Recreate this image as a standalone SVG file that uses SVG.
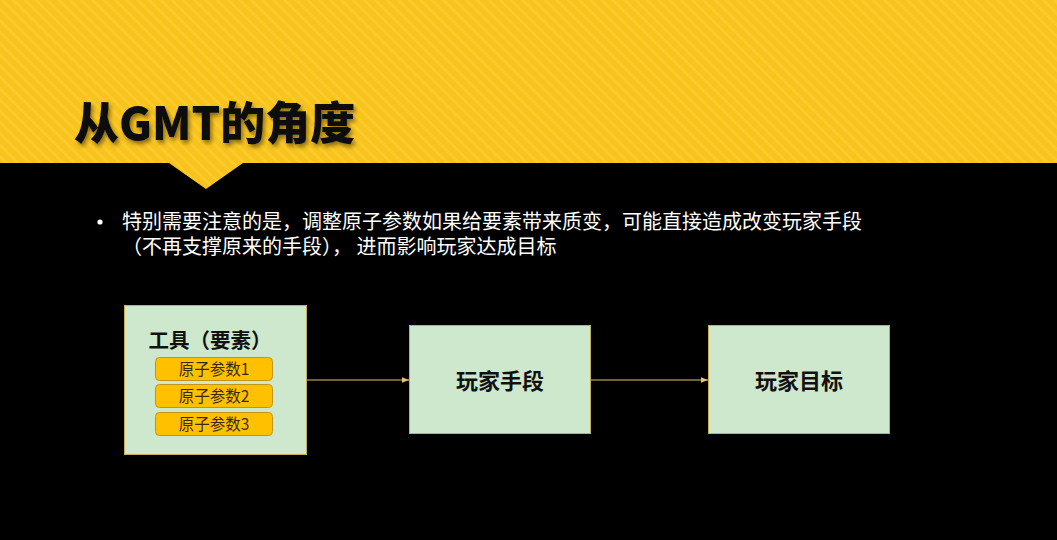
<svg xmlns="http://www.w3.org/2000/svg" width="1057" height="540" viewBox="0 0 1057 540">
<defs>
<pattern id="stripes" width="8" height="8" patternUnits="userSpaceOnUse" patternTransform="rotate(-45)">
<rect width="8" height="8" fill="#f8c31c"/>
<rect width="3" height="8" fill="#fbcb2c"/>
</pattern>
<filter id="shadow" x="-10%" y="-20%" width="130%" height="150%">
<feGaussianBlur in="SourceAlpha" stdDeviation="2"/>
<feOffset dx="2" dy="3" result="b"/>
<feFlood flood-color="#000" flood-opacity="0.45"/>
<feComposite in2="b" operator="in"/>
<feMerge><feMergeNode/><feMergeNode in="SourceGraphic"/></feMerge>
</filter>
<marker id="arr" viewBox="0 0 10 10" refX="10" refY="5" markerWidth="7" markerHeight="7" orient="auto" markerUnits="userSpaceOnUse">
<path d="M0,1 L10,5 L0,9 z" fill="#e6c06a"/>
</marker>
</defs>
<style>
.cjk{font-family:"Noto Sans CJK SC","Liberation Sans",sans-serif}
.box{fill:#cde8cd;stroke:#c9ad55;stroke-width:1}
.chip{fill:#ffc000;stroke:#c49417;stroke-width:1}
.chiptxt{font-size:15.5px;fill:#3a2a00;text-anchor:middle}
.lbl{font-size:22px;font-weight:bold;fill:#111;text-anchor:middle}
.body{font-size:20px;fill:#fff}
.conn{stroke:#e6c06a;stroke-width:1.2;fill:none}
</style>
<rect width="1057" height="540" fill="#000"/>
<polygon points="0,0 1057,0 1057,163 243,163 206,189 169,163 0,163" fill="url(#stripes)"/>
<text x="74" y="140" class="cjk" font-size="45" font-weight="900" fill="#111" filter="url(#shadow)">从GMT的角度</text>
<g id="bullet">
<circle cx="100" cy="222" r="2.6" fill="#fff"/>
<text x="122" y="229" class="cjk body">特别需要注意的是，调整原子参数如果给要素带来质变，可能直接造成改变玩家手段</text>
<text x="122" y="254" class="cjk body">（不再支撑原来的手段）， 进而影响玩家达成目标</text>
</g>
<g id="connectors">
<line x1="307" y1="380" x2="409" y2="380" class="conn" marker-end="url(#arr)"/>
<line x1="591" y1="380" x2="708" y2="380" class="conn" marker-end="url(#arr)"/>
</g>
<g id="tools">
<rect x="124.5" y="305.5" width="182" height="149" class="box"/>
<text x="210" y="348" class="cjk lbl" style="font-size:20.5px">工具（要素）</text>
<g id="p1"><rect x="155.5" y="357.5" width="117" height="23" rx="4" class="chip"/><text x="214" y="374.5" class="cjk chiptxt">原子参数1</text></g>
<g id="p2"><rect x="155.5" y="384.5" width="117" height="23" rx="4" class="chip"/><text x="214" y="401.5" class="cjk chiptxt">原子参数2</text></g>
<g id="p3"><rect x="155.5" y="412.5" width="117" height="23" rx="4" class="chip"/><text x="214" y="429.5" class="cjk chiptxt">原子参数3</text></g>
</g>
<g id="means">
<rect x="409.5" y="325.5" width="181" height="108" class="box"/>
<text x="500" y="389" class="cjk lbl">玩家手段</text>
</g>
<g id="goal">
<rect x="708.5" y="325.5" width="181" height="108" class="box"/>
<text x="799" y="389" class="cjk lbl">玩家目标</text>
</g>
</svg>
